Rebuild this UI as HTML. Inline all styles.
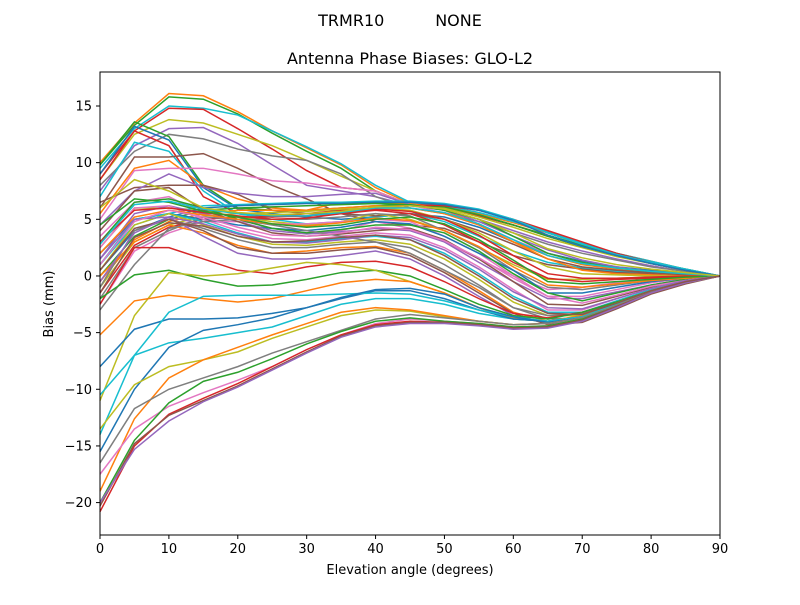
<!DOCTYPE html>
<html><head><meta charset="utf-8"><style>
body{margin:0;background:#fff;font-family:"Liberation Sans","DejaVu Sans",sans-serif}
svg text{font-family:"DejaVu Sans","Liberation Sans",sans-serif;fill:#000}
</style></head><body>
<svg id="chart" width="800" height="600" viewBox="0 0 800 600" xmlns="http://www.w3.org/2000/svg">
<rect width="800" height="600" fill="#fff"/>
<text x="400" y="26" text-anchor="middle" font-size="16" xml:space="preserve">TRMR10          NONE</text>
<text x="410" y="64" text-anchor="middle" font-size="16">Antenna Phase Biases: GLO-L2</text>
<g id="lines"></g>
<rect x="100" y="72" width="620" height="463" fill="none" stroke="#000" stroke-width="1"/>
<g id="xticks"></g>
<g id="yticks"></g>
<text x="410" y="574" text-anchor="middle" font-size="13">Elevation angle (degrees)</text>
<text transform="translate(53,304) rotate(-90)" text-anchor="middle" font-size="13">Bias (mm)</text>
</svg>
<script>
const elevations=[0,5,10,15,20,25,30,35,40,45,50,55,60,65,70,75,80,85,90];
const xTicks=[0,10,20,30,40,50,60,70,80,90];
const yTicks=[-20,-15,-10,-5,0,5,10,15];
const s01=[10,13.5,16.1,15.9,14.5,12.8,11.3,9.8,7.8,6.4,6.2,5.5,4.7,3.8,2.8,2.0,1.3,0.6,0];
const s02=[9.8,13.3,15.8,15.6,14.3,12.6,11.0,9.5,7.5,6.3,6.0,5.3,4.5,3.6,2.7,1.9,1.2,0.6,0];
const s03=[9.5,13.0,15.0,14.8,14.2,12.8,11.4,9.9,8.0,6.5,6.2,5.6,4.8,3.9,2.9,2.0,1.3,0.6,0];
const s04=[9,12.8,14.8,14.7,13.0,11.2,9.3,7.8,7.5,6.3,6.0,5.3,4.5,3.5,2.6,1.8,1.1,0.5,0];
const s05=[8.5,12.5,13.8,13.5,12.5,11.5,10.2,8.8,7.5,6.3,6.0,5.2,4.3,3.3,2.5,1.7,1.1,0.5,0];
const s06=[7.5,11.5,13.0,13.1,11.7,9.8,8.0,7.5,7.0,6.2,5.8,5.0,4.0,3.0,2.2,1.5,0.9,0.4,0];
const s07=[8,11,12.5,12.1,11.2,10.6,10.2,9.0,7.0,6.0,5.5,4.8,3.8,2.8,2.0,1.4,0.8,0.4,0];
const s08=[9.8,13.6,12.3,8.0,6.0,5.8,5.8,6.0,6.2,6.3,6.1,5.4,4.5,3.5,2.6,1.8,1.1,0.5,0];
const s09=[9.0,13.2,12.0,7.8,5.9,5.5,5.2,5.0,5.2,5.5,5.2,4.3,3.0,2.0,1.3,0.8,0.5,0.2,0];
const s10=[8.5,12.8,11.5,7.0,5.5,5.2,5.5,5.8,6.0,6.3,6.2,5.8,5.0,4.0,3.0,2.0,1.2,0.5,0];
const s11=[7.0,11.8,11.0,7.5,5.5,5.0,4.6,4.8,5.2,5.5,4.8,3.5,2.2,1.2,0.7,0.4,0.2,0.1,0];
const s12=[6.0,10.5,10.5,10.8,9.5,8.0,6.8,5.5,4.8,4.5,4.2,3.0,1.8,1.0,0.6,0.3,0.2,0.1,0];
const s13=[5.5,9.5,10.2,8.0,6.8,6.0,5.8,6.5,6.5,6.4,5.8,4.5,3.0,1.8,1.0,0.6,0.3,0.1,0];
const s14=[5,9.3,9.5,9.5,9.0,8.4,8.2,7.8,7.5,6.3,5.5,4.5,3.2,2.0,1.2,0.7,0.4,0.2,0];
const s15=[6.5,7.8,8.0,8.0,7.2,5.8,5.5,5.5,5.3,5.5,5.0,4.0,2.8,1.5,0.8,0.5,0.3,0.1,0];
const s16=[4.5,7.5,9.0,7.8,7.3,7.0,7.0,7.2,7.3,6.3,5.8,4.8,3.5,2.3,1.4,0.8,0.4,0.2,0];
const s17=[3.5,6.5,7.0,5.5,5.0,4.2,3.8,4.0,4.8,4.2,3.0,1.5,0.0,-1.2,-1.0,-0.6,-0.3,-0.1,0];
const s18=[2.5,6.0,6.0,5.8,5.2,4.8,4.5,4.8,5.5,5.0,4.0,2.5,1.0,-0.3,-0.3,-0.2,-0.1,0,0];
const s19=[1.0,4.5,5.5,6.2,6.3,6.4,6.5,6.5,6.6,6.6,6.4,5.9,5.0,3.8,2.8,1.9,1.2,0.6,0];
const s20=[0.5,4.0,5.2,6.0,6.2,6.3,6.4,6.4,6.5,6.5,6.3,5.8,4.9,3.6,2.6,1.8,1.1,0.5,0];
const s21=[0.0,3.5,5.0,5.8,6.0,6.1,6.2,6.3,6.4,6.3,5.8,5.0,3.5,2.0,1.2,0.7,0.4,0.2,0];
const s22=[-0.5,3.2,4.8,5.5,5.8,5.8,5.8,6.0,6.2,6.0,5.5,4.5,3.0,1.5,0.5,0.2,0.1,0,0];
const s23=[-1.0,3.0,4.5,5.3,5.5,5.6,5.7,5.9,6.0,5.8,5.0,3.8,2.2,0.8,0.2,0.1,0,0,0];
const s24=[-1.5,2.7,4.3,5.0,5.2,5.2,5.3,5.5,5.8,5.5,4.5,3.0,1.2,-0.2,-0.5,-0.3,-0.2,-0.1,0];
const s25=[-2.0,2.5,4.0,5.2,5.0,5.0,5.0,5.2,5.5,5.3,4.0,2.5,0.5,-1.0,-1.2,-0.8,-0.4,-0.2,0];
const s26=[-2.5,2.2,3.8,4.8,4.8,4.6,4.6,4.8,5.0,4.8,3.5,2.0,0.0,-1.8,-1.8,-1.2,-0.6,-0.2,0];
const s27=[2.0,5.0,5.5,5.0,4.5,4.2,4.0,4.3,4.8,4.6,3.5,2.0,0.5,-1.5,-1.5,-1.0,-0.5,-0.2,0];
const s28=[1.5,5.5,6.2,5.5,4.8,4.0,3.7,3.9,4.2,4.0,3.0,1.2,-0.5,-2.0,-2.0,-1.4,-0.8,-0.3,0];
const s29=[3.0,6.5,6.8,6.0,5.0,4.2,3.8,4.1,4.5,4.5,3.8,2.2,0.2,-1.5,-2.2,-1.5,-0.8,-0.3,0];
const s30=[4.0,7.5,7.8,5.8,4.8,3.8,3.5,3.7,4.0,4.2,3.2,1.5,-0.5,-2.5,-2.6,-1.8,-1.0,-0.4,0];
const s31=[2.5,6.0,6.2,5.0,4.0,3.3,3.2,3.5,3.8,3.6,2.5,0.8,-1.2,-3.0,-3.0,-2.0,-1.1,-0.4,0];
const s32=[1.0,5.0,5.5,4.8,3.8,3.0,3.0,3.3,3.5,3.2,2.0,0.2,-1.8,-3.2,-3.2,-2.2,-1.2,-0.5,0];
const s33=[0.5,4.5,5.5,4.5,3.5,2.8,2.7,3.0,3.2,2.8,1.5,-0.3,-2.3,-3.5,-3.5,-2.4,-1.3,-0.5,0];
const s34=[-1.0,4.0,5.0,4.2,3.2,2.5,2.5,2.8,3.0,2.5,1.0,-0.8,-2.8,-3.8,-3.7,-2.6,-1.4,-0.6,0];
const s35=[0.0,3.0,4.5,3.8,2.7,2.0,2.2,2.5,2.6,2.0,0.5,-1.3,-3.2,-4.0,-3.8,-2.7,-1.5,-0.6,0];
const s36=[1.5,5.0,5.2,3.5,2.0,1.5,1.5,1.8,2.2,1.5,0.0,-1.8,-3.5,-4.2,-4.0,-2.8,-1.5,-0.6,0];
const s37=[0.5,4.2,5.0,4.0,2.5,2.0,2.0,2.3,2.5,1.8,0.3,-1.5,-3.3,-4.3,-4.1,-2.9,-1.6,-0.7,0];
const s38=[-3.0,1.0,4.2,4.8,5.0,4.5,4.0,3.5,3.0,2.0,0.5,-1.0,-2.8,-3.5,-3.3,-2.3,-1.3,-0.5,0];
const s39=[-2.5,2.5,2.5,1.5,0.5,0.2,0.8,1.2,1.3,0.8,-0.5,-2.0,-3.3,-3.7,-3.2,-2.3,-1.3,-0.5,0];
const s40=[-2.0,0.1,0.5,-0.3,-0.9,-0.8,-0.3,0.3,0.5,0.0,-1.2,-2.5,-3.5,-3.8,-3.2,-2.3,-1.3,-0.5,0];
const s41=[-11,-3.5,0.3,0.0,0.2,0.7,1.2,1.0,0.5,-0.5,-1.5,-2.8,-3.8,-4.0,-3.5,-2.4,-1.3,-0.5,0];
const s42=[-5.2,-2.2,-1.7,-2.0,-2.3,-2.0,-1.3,-0.6,-0.3,-0.5,-1.5,-2.8,-3.7,-4.0,-3.5,-2.5,-1.4,-0.6,0];
const s43=[-14,-7,-5.9,-5.5,-5.0,-4.5,-3.5,-2.5,-2.0,-2.0,-2.5,-3.3,-3.8,-4.0,-3.6,-2.5,-1.4,-0.6,0];
const s44=[-8,-4.7,-3.8,-3.8,-3.7,-3.3,-2.8,-2.0,-1.3,-1.3,-2.0,-3.0,-3.8,-4.0,-3.6,-2.5,-1.4,-0.6,0];
const s45=[-10.5,-7,-3.2,-1.8,-1.7,-1.7,-1.7,-1.6,-1.5,-1.6,-2.2,-3.0,-3.6,-4.0,-3.6,-2.5,-1.4,-0.6,0];
const s46=[-15.5,-10,-6.3,-4.8,-4.3,-3.7,-2.8,-1.9,-1.2,-1.1,-1.6,-2.8,-3.6,-4.1,-3.7,-2.6,-1.4,-0.6,0];
const s47=[-13.5,-9.6,-8.0,-7.4,-6.7,-5.5,-4.5,-3.5,-3.0,-3.1,-3.6,-4.0,-4.3,-4.2,-3.7,-2.6,-1.4,-0.6,0];
const s48=[-19,-12.6,-9,-7.4,-6.3,-5.2,-4.2,-3.2,-2.8,-3.0,-3.5,-4.0,-4.3,-4.2,-3.7,-2.6,-1.4,-0.6,0];
const s49=[-16.5,-11.7,-10,-9,-8,-6.8,-5.8,-4.8,-3.8,-3.4,-3.7,-4.0,-4.3,-4.2,-3.7,-2.6,-1.4,-0.6,0];
const s50=[-17.5,-13.5,-11.5,-10.3,-9.2,-8.0,-6.5,-5.2,-4.2,-3.8,-4.0,-4.2,-4.5,-4.4,-3.8,-2.7,-1.5,-0.6,0];
const s51=[-20,-14.5,-11.2,-9.3,-8.5,-7.3,-6.0,-4.9,-4.0,-3.7,-4.0,-4.2,-4.5,-4.4,-3.8,-2.7,-1.5,-0.6,0];
const s52=[-20.8,-15,-12.2,-10.8,-9.5,-8.0,-6.5,-5.2,-4.3,-4.0,-4.1,-4.3,-4.6,-4.5,-3.9,-2.7,-1.5,-0.6,0];
const s53=[-20.3,-14.8,-12.3,-11,-9.7,-8.2,-6.7,-5.3,-4.4,-4.1,-4.1,-4.3,-4.6,-4.5,-3.9,-2.7,-1.5,-0.6,0];
const s54=[-20,-15.3,-12.8,-11.1,-9.8,-8.3,-6.8,-5.4,-4.5,-4.2,-4.2,-4.4,-4.7,-4.6,-4.0,-2.8,-1.5,-0.6,0];
const s55=[3.0,5.8,6.0,5.6,5.3,5.0,5.1,5.5,5.9,5.7,5.0,3.6,1.8,0.2,-0.2,-0.2,-0.1,0,0];
const s56=[2.0,5.2,5.8,5.4,5.0,4.6,4.4,4.7,5.1,4.9,4.0,2.6,0.8,-0.8,-1.0,-0.7,-0.4,-0.2,0];
const s57=[4.5,6.8,6.5,5.7,5.2,4.6,4.3,4.5,5.0,5.2,4.6,3.2,1.4,-0.5,-0.7,-0.5,-0.3,-0.1,0];
const s58=[1.0,4.8,5.8,5.2,4.3,3.6,3.5,3.8,4.3,4.1,3.1,1.6,-0.2,-1.8,-2.4,-1.7,-0.9,-0.4,0];
const s59=[-0.5,3.8,5.2,4.6,3.7,3.0,2.9,3.2,3.6,3.4,2.3,0.6,-1.4,-2.8,-2.9,-2.0,-1.1,-0.4,0];
const s60=[2.8,6.3,6.6,5.9,5.5,5.3,5.3,5.6,6.0,6.0,5.6,4.6,3.2,1.8,1.1,0.7,0.4,0.2,0];
const s61=[6.0,8.5,7.5,6.0,5.6,5.4,5.5,5.7,6.1,6.2,5.9,5.0,3.8,2.4,1.6,1.0,0.6,0.3,0];
const s62=[-1.5,3.4,4.7,4.4,3.5,3.0,3.1,3.4,3.6,3.2,1.8,0.0,-2.0,-3.3,-3.4,-2.4,-1.3,-0.5,0];
const seriesList=[s01,s02,s03,s04,s05,s06,s07,s08,s09,s10,s11,s12,s13,s14,s15,s16,s17,s18,s19,s20,s21,s22,s23,s24,s25,s26,s27,s28,s29,s30,s31,s32,s33,s34,s35,s36,s37,s38,s39,s40,s41,s42,s43,s44,s45,s46,s47,s48,s49,s50,s51,s52,s53,s54,s55,s56,s57,s58,s59,s60,s61,s62];
const seriesColors=["#ff7f0e","#2ca02c","#17becf","#d62728","#bcbd22","#9467bd","#7f7f7f","#2ca02c","#1f77b4","#d62728","#17becf","#8c564b","#ff7f0e","#e377c2","#8c564b","#9467bd","#e377c2","#bcbd22","#17becf","#1f77b4","#2ca02c","#ff7f0e","#bcbd22","#d62728","#7f7f7f","#e377c2","#1f77b4","#9467bd","#2ca02c","#8c564b","#e377c2","#17becf","#bcbd22","#7f7f7f","#ff7f0e","#9467bd","#8c564b","#7f7f7f","#d62728","#2ca02c","#bcbd22","#ff7f0e","#17becf","#1f77b4","#17becf","#1f77b4","#bcbd22","#ff7f0e","#7f7f7f","#e377c2","#2ca02c","#d62728","#8c564b","#9467bd","#d62728","#ff7f0e","#2ca02c","#e377c2","#9467bd","#17becf","#bcbd22","#8c564b"];
const X0=100,X1=720,Y0=535,Y1=72,XMIN=0,XMAX=90,YMIN=-22.86,YMAX=18.0;
function xs(v){return X0+(v-XMIN)/(XMAX-XMIN)*(X1-X0);}
function ys(v){return Y0-(v-YMIN)/(YMAX-YMIN)*(Y0-Y1);}
const NS="http://www.w3.org/2000/svg";
const lines=document.getElementById('lines');
seriesList.forEach((s,i)=>{
  const p=document.createElementNS(NS,'polyline');
  p.setAttribute('points',s.map((v,j)=>xs(elevations[j]).toFixed(2)+','+ys(v).toFixed(2)).join(' '));
  p.setAttribute('fill','none');
  p.setAttribute('stroke',seriesColors[i%seriesColors.length]);
  p.setAttribute('stroke-width','1.5');
  
  
  lines.appendChild(p);
});
const xg=document.getElementById('xticks');
xTicks.forEach(t=>{
  const l=document.createElementNS(NS,'line');
  l.setAttribute('x1',xs(t));l.setAttribute('x2',xs(t));l.setAttribute('y1',Y0);l.setAttribute('y2',Y0+4);l.setAttribute('stroke','#000');
  
  
  xg.appendChild(l);
  const tx=document.createElementNS(NS,'text');
  tx.setAttribute('x',xs(t));tx.setAttribute('y',Y0+18);tx.setAttribute('text-anchor','middle');tx.setAttribute('font-size','13');
  tx.textContent=t;
  
  
  xg.appendChild(tx);
});
const yg=document.getElementById('yticks');
yTicks.forEach(t=>{
  const l=document.createElementNS(NS,'line');
  l.setAttribute('x1',X0-4);l.setAttribute('x2',X0);l.setAttribute('y1',ys(t));l.setAttribute('y2',ys(t));l.setAttribute('stroke','#000');
  
  
  yg.appendChild(l);
  const tx=document.createElementNS(NS,'text');
  tx.setAttribute('x',X0-8);tx.setAttribute('y',ys(t)+4.5);tx.setAttribute('text-anchor','end');tx.setAttribute('font-size','13');
  tx.textContent=t<0?'\u2212'+Math.abs(t):String(t);
  
  
  yg.appendChild(tx);
});
</script>
</body></html>
